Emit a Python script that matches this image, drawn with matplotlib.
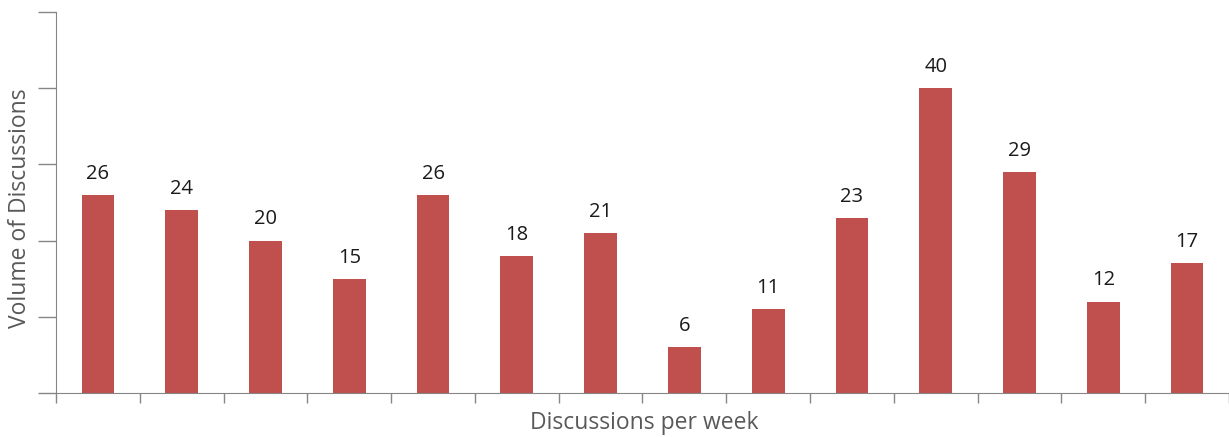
import matplotlib
matplotlib.use("Agg")
import matplotlib.pyplot as plt
import numpy as np

weeks = list(range(1, 15))
values = [26, 24, 20, 15, 26, 18, 21, 6, 11, 23, 40, 29, 12, 17]
yticks = [0, 10, 20, 30, 40, 50]

plt.rcParams['font.family'] = ['Open Sans', 'DejaVu Sans']

fig = plt.figure(figsize=(12.29, 4.37), dpi=100)
ax = fig.add_axes([56/1229, 1-393/437, 1-56/1229, (393-12)/437])

x = np.arange(len(values))
bars = ax.bar(x, values, width=0.39, color='#C0504D', zorder=2)
for xi, v in zip(x, values):
    ax.annotate(str(v), (xi, v), xytext=(0, 8), textcoords='offset points',
                ha='center', va='bottom', fontsize=14.5, color='#1a1a1a')

ax.set_xlim(-0.5, len(values) - 0.5)
ax.set_ylim(0, 50)
ax.set_yticks(yticks)
ax.set_yticklabels([])
ax.set_xticks(np.arange(len(values) + 1) - 0.5)
ax.set_xticklabels([])
ax.tick_params(axis='y', length=13, color='#868686', width=1)
ax.tick_params(axis='x', length=7, color='#868686', width=1)
for s in ['top', 'right']:
    ax.spines[s].set_visible(False)
for s in ['left', 'bottom']:
    ax.spines[s].set_color('#868686')
ax.set_xlabel('Discussions per week', fontsize=16.5, color='#595959')
ax.set_ylabel('Volume of Discussions', fontsize=16.5, color='#595959')
# place labels in figure pixel coordinates
ax.xaxis.set_label_coords(644/1229, 1-423/437, transform=fig.transFigure)
ax.xaxis.label.set_va('center')
ax.yaxis.set_label_coords(20/1229, 1-208/437, transform=fig.transFigure)
ax.yaxis.label.set_va('center')

fig.savefig('out.png', dpi=100)
